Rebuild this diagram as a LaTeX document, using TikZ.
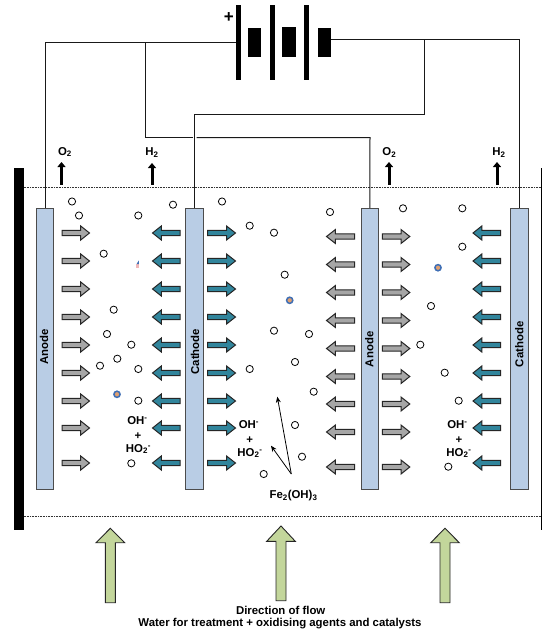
\documentclass[tikz,border=0pt]{standalone}
\usepackage{fontspec}
\setmainfont{Liberation Sans}
\usetikzlibrary{arrows.meta}
\definecolor{elec}{HTML}{B9CDE5}
\definecolor{greyarrow}{HTML}{A6A6A6}
\definecolor{tealarrow}{HTML}{31859C}
\definecolor{flowgreen}{HTML}{C3D69B}
\definecolor{ringblue}{HTML}{3F6FB5}
\definecolor{ringorange}{HTML}{E0A070}
\definecolor{speckpink}{HTML}{F0B8B8}
\tikzset{
  x=1pt,y=-1pt,
  wire/.style={draw=black!90,line width=1pt},
  electrode/.style={draw=black!70,line width=1pt,fill=elec},
  elabel/.style={rotate=90,font=\bfseries\fontsize{11.4}{13}\selectfont,inner sep=0pt},
  lab/.style={font=\bfseries\fontsize{11.4}{13}\selectfont,inner sep=0pt},
  bubble/.style={circle,draw=black,line width=0.8pt,fill=white,minimum size=7.2pt,inner sep=0pt},
  cbubble/.style={circle,draw=ringblue,line width=1.5pt,fill=ringorange,minimum size=6.2pt,inner sep=0pt},
  blackpart/.style={fill=black,draw=none},
  gasarrow/.style={line width=3pt,-{Triangle[width=8pt,length=5pt]},black},
  thinarrow/.style={line width=0.8pt,-{Stealth[width=5pt,length=6pt]},black},
  dotline/.style={line width=1pt,black!80,dash pattern=on 1pt off 0.6pt},
  flowarrow/.style={draw=black!85,line width=0.9pt,fill=flowgreen},
  grarrow/.style={draw=black!85,line width=1pt,fill=greyarrow},
  tearrow/.style={draw=black!85,line width=1pt,fill=tealarrow}
}
\newcommand{\harrow}[4]{% style, x tail, x tip, y
  \pgfmathsetmacro{\hb}{#3-(#3-#2)*0.32}
  \path[#1] (#2,#4-2.6) -- (\hb,#4-2.6) -- (\hb,#4-7) -- (#3,#4) -- (\hb,#4+7) -- (\hb,#4+2.6) -- (#2,#4+2.6) -- cycle;
}
\newcommand{\flowarr}[4]{% xcentre, tip y, head base y, bottom y
  \path[flowarrow] (#1,#2) -- (#1+14.3,#3) -- (#1+5,#3) -- (#1+5,#4) -- (#1-5,#4) -- (#1-5,#3) -- (#1-14.3,#3) -- cycle;
}
\begin{document}
\begin{tikzpicture}
\useasboundingbox (0,0) rectangle (542,634);
\fill[white] (0,0) rectangle (542,634);
% tank
\fill[black] (14,168) rectangle (23.5,530);
\draw[black,line width=1pt] (541.3,168) -- (541.3,530);
\coordinate (tl) at (23.5,187);
\coordinate (tr) at (541,187);
\coordinate (bl) at (23.5,516.5);
\coordinate (br) at (541,516.5);
\draw[dotline] (tl) -- (tr);
\draw[dotline] (bl) -- (br);
% battery
\path[blackpart] (236,5) rectangle (241.3,80);
\path[blackpart] (248,28) rectangle (261,57);
\path[blackpart] (269.5,5) rectangle (274.7,80);
\path[blackpart] (282,27.5) rectangle (295.6,57);
\path[blackpart] (303.7,5) rectangle (309,80);
\path[blackpart] (317.5,28) rectangle (331,57);
\coordinate (bp) at (236,42.5);
\coordinate (bn) at (331,40);
\node[font=\bfseries\fontsize{17}{17}\selectfont,inner sep=0pt] at (228.8,18) {+};
% electrodes
\node[electrode,minimum width=17.5pt,minimum height=281.5pt,inner sep=0pt] (a1) at (45,349.2) {};
\node[electrode,minimum width=17.5pt,minimum height=281.5pt,inner sep=0pt] (c1) at (194.7,349.2) {};
\node[electrode,minimum width=17.5pt,minimum height=281.5pt,inner sep=0pt] (a2) at (369.8,349.2) {};
\node[electrode,minimum width=17.5pt,minimum height=281.5pt,inner sep=0pt] (c2) at (519.6,349.2) {};
\node[elabel] at (44,347) {Anode};
\node[elabel] at (195,351.7) {Cathode};
\node[elabel] at (369.3,349.3) {Anode};
\node[elabel] at (519.3,344.3) {Cathode};
% wires
\draw[wire] (bp) -- (45,42.5) -- (a1.north);
\draw[wire] (145.5,42.5) -- (145.5,137.5) -- (192.7,137.5);
\draw[wire] (196.7,137.5) -- (370,137.5) -- (a2.north);
\draw[wire] (c1.north) -- (194.7,114) -- (424,114) -- (424,40);
\draw[wire] (bn) -- (519.6,40) -- (c2.north);
% gas
\node[lab] at (65,152) {O\textsubscript{2}};
\node[lab] at (152,152.5) {H\textsubscript{2}};
\node[lab] at (389.3,152.5) {O\textsubscript{2}};
\node[lab] at (499,152.5) {H\textsubscript{2}};
\coordinate (g1a) at (61.5,184.5); \coordinate (g1b) at (61.5,162);
\coordinate (g2a) at (152,184.5); \coordinate (g2b) at (152,163);
\coordinate (g3a) at (389,184.5); \coordinate (g3b) at (389,162);
\coordinate (g4a) at (497,184.5); \coordinate (g4b) at (497,162);
\draw[gasarrow] (g1a) -- (g1b);
\draw[gasarrow] (g2a) -- (g2b);
\draw[gasarrow] (g3a) -- (g3b);
\draw[gasarrow] (g4a) -- (g4b);
% horizontal arrows
\foreach \y in {233,261,289,317,345,373,401,428,463}{
  \harrow{grarrow}{62}{89.5}{\y}
  \harrow{tearrow}{180}{152.5}{\y}
  \harrow{tearrow}{207.5}{235.5}{\y}
  \harrow{tearrow}{500.5}{473}{\y}
}
\foreach \y in {236.5,264.5,292.5,320.5,348.5,376.5,404,432,467}{
  \harrow{grarrow}{354.5}{326.5}{\y}
  \harrow{grarrow}{382.3}{409.8}{\y}
}
% bubbles
\foreach \i/\p in {1/{72,201.5},2/{79,215.5},3/{103.7,253.7},4/{138.3,215.5},5/{173,204.7},6/{222,201.5},7/{249.7,225.7},8/{330,212},9/{274,232.7},10/{403,208.3},11/{462.3,208.3},12/{462.3,246.7},13/{113.7,309.7},14/{107,334},15/{131.3,344.7},16/{117.3,358.7},17/{100,365.7},18/{138.3,369},19/{249.7,369},20/{138.3,400.7},21/{131.3,463.3},22/{263.7,474},23/{284.7,274.7},24/{274,330.7},25/{309,334},26/{295,362},27/{313.7,391.7},28/{295,425},29/{302,456.7},30/{431,306},31/{420.3,344.7},32/{444.7,372.7},33/{458.7,400.7},34/{448.3,466.7}}{
  \node[bubble] (b\i) at (\p) {};
}
\node[cbubble] (cb1) at (117,394.3) {};
\node[cbubble] (cb2) at (289.7,300.3) {};
\node[cbubble] (cb3) at (438,267.7) {};
% speck
\fill[speckpink] (136,263.5) rectangle (138.8,267.5);
\fill[ringblue] (136.6,264) -- (138.8,260.5) -- (138.8,264) -- cycle;
% ion labels
\node[lab] at (137.5,421) {OH\textsuperscript{-}};
\node[lab] at (138,436) {+};
\node[lab] at (138.5,449) {HO\textsubscript{2}\textsuperscript{-}};
\node[lab] at (249,425) {OH\textsuperscript{-}};
\node[lab] at (249.7,440) {+};
\node[lab] at (250,453) {HO\textsubscript{2}\textsuperscript{-}};
\node[lab] at (457.5,425) {OH\textsuperscript{-}};
\node[lab] at (459,440) {+};
\node[lab] at (459,453) {HO\textsubscript{2}\textsuperscript{-}};
% Fe label
\node[lab] (fe) at (293.5,495.7) {Fe\textsubscript{2}(OH)\textsubscript{3}};
\coordinate (fs) at (291.3,474);
\coordinate (f1) at (277.3,396.7);
\coordinate (f2) at (271,445.7);
\draw[thinarrow] (fs) -- (f1);
\draw[thinarrow] (fs) -- (f2);
% flow
\flowarr{110.3}{528.3}{542.7}{602.7}
\flowarr{281}{526}{541.3}{600.7}
\flowarr{445}{528.3}{542.7}{602.7}
\node[lab] at (280.7,610) {Direction of flow};
\node[lab] at (280,624) {Water for treatment + oxidising agents and catalysts};
\end{tikzpicture}
\end{document}
